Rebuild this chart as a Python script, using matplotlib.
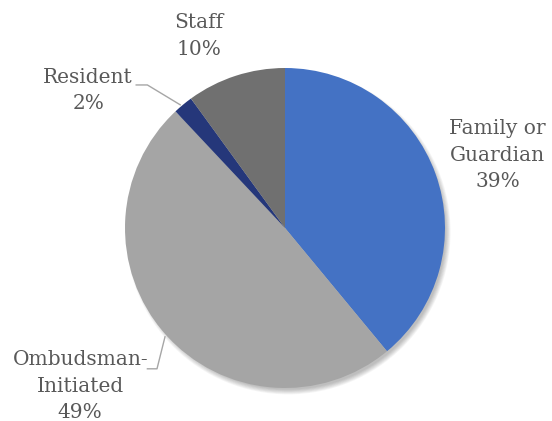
import matplotlib.pyplot as plt
from matplotlib.patches import Circle

labels = ['Family or\nGuardian', 'Ombudsman-\nInitiated', 'Resident', 'Staff']
shares = [39, 49, 2, 10]
colors = ['#4472C4', '#A5A5A5', '#25377A', '#707070']

fig = plt.figure(figsize=(5.52, 4.21), dpi=100)
ax = fig.add_axes([125 / 552, 33 / 421, 320 / 552, 320 / 421])

# soft drop shadow under the pie, offset down and right
for k in range(7):
    ax.add_patch(Circle((0.02, -0.025), 0.985 + k * 0.005, color='black',
                        alpha=0.04, lw=0, zorder=0, clip_on=False))

wedges, _ = ax.pie(shares, colors=colors, startangle=90, counterclock=False,
                   radius=1, wedgeprops=dict(linewidth=0))
for w in wedges:
    w.set_zorder(2)
    w.set_clip_on(False)

ax.set_xlim(-1, 1)
ax.set_ylim(-1, 1)
ax.set_aspect('equal')
ax.axis('off')

font = dict(family='DejaVu Serif', fontsize=14.5, color='#595959',
            ha='center', va='center', linespacing=1.5)
pos = {
    'Family or\nGuardian': (1.33, 0.455),
    'Ombudsman-\nInitiated': (-1.28, -0.99),
    'Resident': (-1.23, 0.86),
    'Staff': (-0.54, 1.2),
}
for lab, val in zip(labels, shares):
    x, y = pos[lab]
    ax.text(x, y, f'{lab}\n{val}%', clip_on=False, **font)

# leader lines
ax.plot([-0.93, -0.86, -0.655], [0.894, 0.894, 0.77], color='#A6A6A6', lw=1,
        clip_on=False, zorder=3)
ax.plot([-0.86, -0.80, -0.75], [-0.88, -0.88, -0.68], color='#A6A6A6', lw=1,
        clip_on=False, zorder=3)

fig.savefig('out.png', dpi=100)
